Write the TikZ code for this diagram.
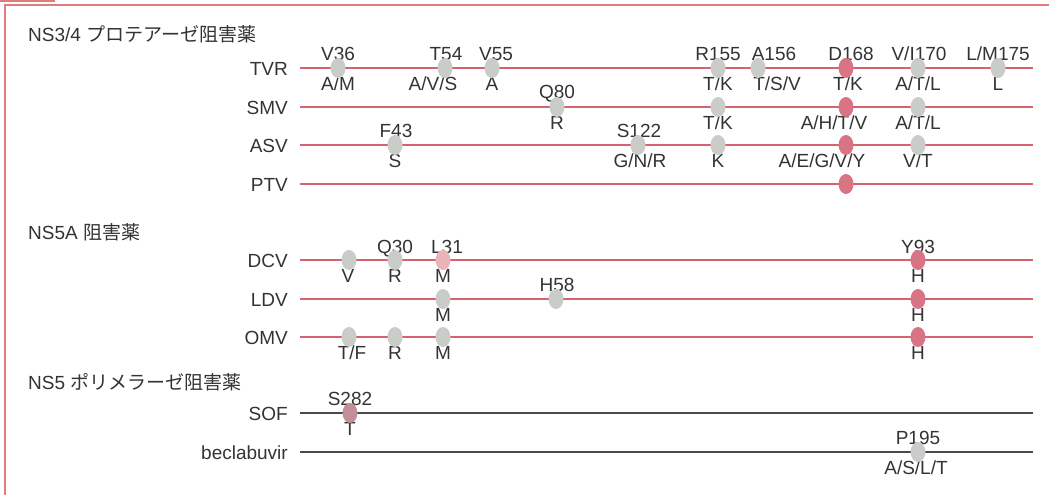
\documentclass[tikz,border=0pt]{standalone}
\usepackage{fontspec}
\setmainfont{Liberation Sans}
\newfontfamily\jpfont{Noto Sans CJK JP}
\usetikzlibrary{shapes.geometric}

\definecolor{ink}{HTML}{333333}
\definecolor{framered}{HTML}{E07C7C}
\definecolor{linered}{HTML}{D5626D}
\definecolor{linegray}{HTML}{4A4A4A}
\definecolor{dotgray}{HTML}{C9CCC8}
\definecolor{dotred}{HTML}{D87483}
\definecolor{dotpink}{HTML}{E8B4B7}
\definecolor{dotmauve}{HTML}{C38E98}

\tikzset{
    txt/.style={font=\fontsize{19}{22}\selectfont, text=ink, inner sep=0pt},
    title/.style={txt, anchor=base west},
    drug/.style={txt, anchor=base east},
    res/.style={txt, anchor=base},
    mut/.style={ellipse, minimum width=15pt, minimum height=20pt, inner sep=0pt},
    gdot/.style={mut, fill=dotgray},
    rdot/.style={mut, fill=dotred},
    pdot/.style={mut, fill=dotpink},
    mdot/.style={mut, fill=dotmauve},
    redline/.style={linered, line width=1.2pt},
    grayline/.style={linegray, line width=1.2pt}
}

\begin{document}
\begin{tikzpicture}[x=1pt, y=-1pt]
        \useasboundingbox (0,0) rectangle (1049,495);
        \fill [framered] (0,0) rectangle (55,2.5);
        \draw [framered, line width=1.2pt] (5,495) -- (5,5) -- (1049,5);

        % group titles
        \node [title] (ns34) at (28,42) {NS3/4 {\jpfont プロテアーゼ阻害薬}};
        \node [title] (ns5a) at (28,239) {NS5A {\jpfont 阻害薬}};
        \node [title] (ns5b) at (28,389) {NS5 {\jpfont ポリメラーゼ阻害薬}};

        % drugs
        \node [drug] (tvr) at (288,75) {TVR};
        \node [drug] (smv) at (288,114) {SMV};
        \node [drug] (asv) at (288,152) {ASV};
        \node [drug] (ptv) at (288,191) {PTV};
        \node [drug] (dcv) at (288,267) {DCV};
        \node [drug] (ldv) at (288,306) {LDV};
        \node [drug] (omv) at (288,344) {OMV};
        \node [drug] (sof) at (288,420) {SOF};
        \node [drug] (bec) at (288,459) {beclabuvir};

        \coordinate (tvrl) at (300,68);  \coordinate (tvrr) at (1033,68);
        \coordinate (smvl) at (300,107); \coordinate (smvr) at (1033,107);
        \coordinate (asvl) at (300,145); \coordinate (asvr) at (1033,145);
        \coordinate (ptvl) at (300,184); \coordinate (ptvr) at (1033,184);
        \coordinate (dcvl) at (300,260); \coordinate (dcvr) at (1033,260);
        \coordinate (ldvl) at (300,299); \coordinate (ldvr) at (1033,299);
        \coordinate (omvl) at (300,337); \coordinate (omvr) at (1033,337);
        \coordinate (sofl) at (300,413); \coordinate (sofr) at (1033,413);
        \coordinate (becl) at (300,452); \coordinate (becr) at (1033,452);

        \draw [redline] (tvrl) -- (tvrr);
        \draw [redline] (smvl) -- (smvr);
        \draw [redline] (asvl) -- (asvr);
        \draw [redline] (ptvl) -- (ptvr);
        \draw [redline] (dcvl) -- (dcvr);
        \draw [redline] (ldvl) -- (ldvr);
        \draw [redline] (omvl) -- (omvr);
        \draw [grayline] (sofl) -- (sofr);
        \draw [grayline] (becl) -- (becr);

        % TVR
        \node [res] (tvr36t) at (338,60) {V36};       \node [res] (tvr36b) at (338,90) {A/M};
        \node [res] (tvr54t) at (446,60) {T54};       \node [res] (tvr54b) at (433,90) {A/V/S};
        \node [res] (tvr55t) at (496,60) {V55};       \node [res] (tvr55b) at (492,90) {A};
        \node [res] (tvr155t) at (718,60) {R155};     \node [res] (tvr155b) at (718,90) {T/K};
        \node [res] (tvr156t) at (774,60) {A156};     \node [res] (tvr156b) at (777,90) {T/S/V};
        \node [res] (tvr168t) at (851,60) {D168};     \node [res] (tvr168b) at (848,90) {T/K};
        \node [res] (tvr170t) at (919,60) {V/I170};   \node [res] (tvr170b) at (918,90) {A/T/L};
        \node [res] (tvr175t) at (998,60) {L/M175};   \node [res] (tvr175b) at (998,90) {L};
        \node [gdot] (tvr36) at (338,68) {};
        \node [gdot] (tvr54) at (445,68) {};
        \node [gdot] (tvr55) at (492,68) {};
        \node [gdot] (tvr155) at (718,68) {};
        \node [gdot] (tvr156) at (758,68) {};
        \node [rdot] (tvr168) at (846,68) {};
        \node [gdot] (tvr170) at (918,68) {};
        \node [gdot] (tvr175) at (998,68) {};

        % SMV
        \node [res] (smv80t) at (557,99) {Q80};       \node [res] (smv80b) at (557,129) {R};
        \node [res] (smv155b) at (718,129) {T/K};
        \node [res] (smv168b) at (834,129) {A/H/T/V};
        \node [res] (smv170b) at (918,129) {A/T/L};
        \node [gdot] (smv80) at (557,107) {};
        \node [gdot] (smv155) at (718,107) {};
        \node [rdot] (smv168) at (846,107) {};
        \node [gdot] (smv170) at (918,107) {};

        % ASV
        \node [res] (asv43t) at (396,137) {F43};      \node [res] (asv43b) at (395,167) {S};
        \node [res] (asv122t) at (639,137) {S122};    \node [res] (asv122b) at (640,167) {G/N/R};
        \node [res] (asv155b) at (718,167) {K};
        \node [res] (asv168b) at (822,167) {A/E/G/V/Y};
        \node [res] (asv170b) at (918,167) {V/T};
        \node [gdot] (asv43) at (395,145) {};
        \node [gdot] (asv122) at (638,145) {};
        \node [gdot] (asv155) at (718,145) {};
        \node [rdot] (asv168) at (846,145) {};
        \node [gdot] (asv170) at (918,145) {};

        % PTV
        \node [rdot] (ptv168) at (846,184) {};

        % DCV
        \node [res] (dcv28b) at (348,282) {V};
        \node [res] (dcv30t) at (395,253) {Q30};      \node [res] (dcv30b) at (395,282) {R};
        \node [res] (dcv31t) at (447,253) {L31};      \node [res] (dcv31b) at (443,282) {M};
        \node [res] (dcv93t) at (918,253) {Y93};      \node [res] (dcv93b) at (918,282) {H};
        \node [gdot] (dcv28) at (349,260) {};
        \node [gdot] (dcv30) at (395,260) {};
        \node [pdot] (dcv31) at (443,260) {};
        \node [rdot] (dcv93) at (918,260) {};

        % LDV
        \node [res] (ldv31b) at (443,321) {M};
        \node [res] (ldv58t) at (557,291) {H58};
        \node [res] (ldv93b) at (918,321) {H};
        \node [gdot] (ldv31) at (443,299) {};
        \node [gdot] (ldv58) at (556,299) {};
        \node [rdot] (ldv93) at (918,299) {};

        % OMV
        \node [res] (omv28b) at (352,359) {T/F};
        \node [res] (omv30b) at (395,359) {R};
        \node [res] (omv31b) at (443,359) {M};
        \node [res] (omv93b) at (918,359) {H};
        \node [gdot] (omv28) at (349,337) {};
        \node [gdot] (omv30) at (395,337) {};
        \node [gdot] (omv31) at (443,337) {};
        \node [rdot] (omv93) at (918,337) {};

        % SOF and beclabuvir
        \node [res] (sof282t) at (350,405) {S282};    \node [res] (sof282b) at (350,435) {T};
        \node [mdot] (sof282) at (350,413) {};
        \node [res] (bec195t) at (918,444) {P195};    \node [res] (bec195b) at (916,474) {A/S/L/T};
        \node [gdot] (bec195) at (918,452) {};
    \end{tikzpicture}
\end{document}
